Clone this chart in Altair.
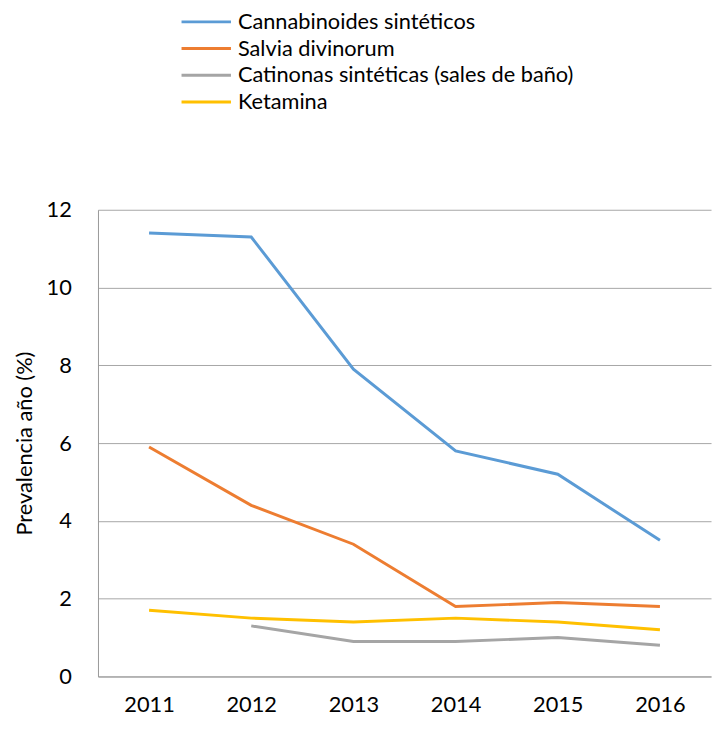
import altair as alt
import pandas as pd

years = ["2011", "2012", "2013", "2014", "2015", "2016"]
series_names = [
    "Cannabinoides sintéticos",
    "Salvia divinorum",
    "Catinonas sintéticas (sales de baño)",
    "Ketamina",
]
cannabinoides = [11.4, 11.3, 7.9, 5.8, 5.2, 3.5]
salvia = [5.9, 4.4, 3.4, 1.8, 1.9, 1.8]
catinonas = [None, 1.3, 0.9, 0.9, 1.0, 0.8]
ketamina = [1.7, 1.5, 1.4, 1.5, 1.4, 1.2]
colors = ["#5B9BD5", "#ED7D31", "#A5A5A5", "#FFC000"]

rows = []
for name, vals in zip(series_names, [cannabinoides, salvia, catinonas, ketamina]):
    for y, v in zip(years, vals):
        if v is not None:
            rows.append({"Año": y, "Serie": name, "Valor": v})
df = pd.DataFrame(rows)

FONT = "Lato"
FS = 22

chart = (
    alt.Chart(df)
    .mark_line(strokeWidth=3)
    .encode(
        x=alt.X(
            "Año:O",
            sort=years,
            scale=alt.Scale(type="point", padding=0.5),
            axis=alt.Axis(
                title=None,
                labelAngle=0,
                labelFontSize=FS,
                labelFont=FONT,
                labelColor="#000000",
                labelPadding=18,
                ticks=False,
                domainColor="#999999",
                domainWidth=1,
                grid=False,
            ),
        ),
        y=alt.Y(
            "Valor:Q",
            scale=alt.Scale(domain=[0, 12], nice=False),
            axis=alt.Axis(
                title="Prevalencia año (%)",
                titleFontSize=FS,
                titleFont=FONT,
                titleFontWeight="normal",
                titleColor="#000000",
                titlePadding=10,
                values=[0, 2, 4, 6, 8, 10, 12],
                labelFontSize=FS,
                labelFont=FONT,
                labelColor="#000000",
                labelPadding=27,
                ticks=False,
                domainColor="#999999",
                gridColor="#A6A6A6",
                gridWidth=1,
            ),
        ),
        color=alt.Color(
            "Serie:N",
            sort=series_names,
            scale=alt.Scale(domain=series_names, range=colors),
            legend=alt.Legend(
                title=None,
                orient="none",
                legendX=93.5,
                legendY=-206,
                symbolType="M-1.724,0H1.724",
                symbolSize=841,
                symbolStrokeWidth=3,
                labelFontSize=FS,
                labelFont=FONT,
                labelColor="#000000",
                labelOffset=16,
                rowPadding=0,
                labelLimit=500,
            ),
        ),
    )
    .properties(
        width=620,
        height=472,
        autosize=alt.AutoSizeParams(type="none"),
        padding={"left": 91, "top": 200, "right": 2, "bottom": 41},
    )
    .configure_view(stroke=None)
)

chart.save("out.html", embed_options={"renderer": "svg", "actions": False})
